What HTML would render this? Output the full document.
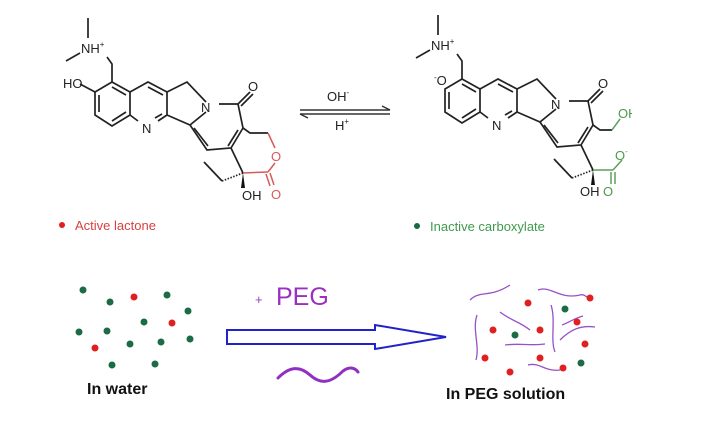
<!DOCTYPE html>
<html><head><style>
html,body{margin:0;padding:0;background:#fff;}
svg{display:block;font-family:"Liberation Sans",Arial,sans-serif;}
</style></head><body>
<svg width="706" height="434" viewBox="0 0 706 434" xmlns="http://www.w3.org/2000/svg">
<defs>
<g id="core" fill="none" stroke="#222" stroke-width="1.7">
  <line x1="88" y1="18" x2="88" y2="38"/>
  <line x1="66" y1="61" x2="80" y2="53"/>
  <polyline points="107,57 112,64 112,82"/>
  <polygon points="112,82 95,92 95,115 112,126 130,115 130,92"/>
  <line x1="99" y1="95" x2="99" y2="112"/>
  <line x1="112" y1="121" x2="126" y2="112"/>
  <line x1="112" y1="87" x2="126" y2="95"/>
  <polyline points="130,92 148,82 167,92 167,115 158,121"/>
  <line x1="138" y1="121" x2="130" y2="115"/>
  <line x1="148" y1="87" x2="163" y2="95"/>
  <line x1="162" y1="114" x2="155" y2="118"/>
  <polyline points="167,92 187,82 206,102"/>
  <polyline points="167,115 190,125 206,112"/>
  <polyline points="219,104 238,104 243,128 231,148 207,150 190,125"/>
  <line x1="194" y1="128" x2="208" y2="146"/>
  <line x1="238" y1="130" x2="228" y2="146"/>
  <line x1="238" y1="104" x2="250" y2="92"/>
  <line x1="241" y1="106" x2="253" y2="94"/>
  <line x1="231" y1="148" x2="243" y2="173"/>
  <line x1="243" y1="173" x2="222" y2="181" stroke-dasharray="1.5,1.5"/>
  <line x1="222" y1="181" x2="204" y2="162"/>
  <polygon points="243,173 241,188 245,188" fill="#111" stroke="none"/>
</g>
</defs>

<use href="#core"/>
<text x="81" y="53" font-size="13" fill="#222">NH<tspan font-size="8" dy="-6">+</tspan></text>
<text x="63" y="88" font-size="13" fill="#222">HO</text>
<line x1="80" y1="84" x2="95" y2="92" stroke="#222" stroke-width="1.7"/>
<text x="201" y="112" font-size="13" fill="#222">N</text>
<text x="142" y="133" font-size="13" fill="#222">N</text>
<text x="248" y="91" font-size="13" fill="#222">O</text>
<g fill="none" stroke="#222" stroke-width="1.7"><polyline points="243,128 250,133 268,133"/></g>
<g fill="none" stroke="#d85a5a" stroke-width="1.5">
  <line x1="268" y1="133" x2="275" y2="148"/>
  <line x1="275" y1="163" x2="268" y2="172"/>
  <line x1="243" y1="173" x2="268" y2="172"/>
  <line x1="266" y1="174" x2="270" y2="186"/>
  <line x1="270" y1="173" x2="274" y2="185"/>
</g>
<text x="271" y="161" font-size="13" fill="#d85a5a">O</text>
<text x="271" y="199" font-size="13" fill="#d85a5a">O</text>
<text x="242" y="200" font-size="13" fill="#222">OH</text>

<circle cx="62" cy="225" r="3" fill="#e02020"/>
<text x="75" y="230" font-size="13" fill="#d84040">Active lactone</text>

<text x="327" y="101" font-size="13" fill="#222">OH<tspan font-size="8" dy="-6">-</tspan></text>
<text x="335" y="130" font-size="13" fill="#222">H<tspan font-size="8" dy="-6">+</tspan></text>
<g stroke="#333" stroke-width="1.5" fill="none">
  <line x1="300" y1="110" x2="390" y2="110"/>
  <polyline points="382,106 390,110"/>
  <line x1="300" y1="114" x2="390" y2="114"/>
  <polyline points="300,114 308,118"/>
</g>

<g transform="translate(350,-3)">
<use href="#core"/>
<text x="81" y="53" font-size="13" fill="#222">NH<tspan font-size="8" dy="-6">+</tspan></text>
<text x="84" y="88" font-size="13" fill="#222"><tspan font-size="8" dy="-5">-</tspan><tspan dy="5">O</tspan></text>
<text x="201" y="112" font-size="13" fill="#222">N</text>
<text x="142" y="133" font-size="13" fill="#222">N</text>
<text x="248" y="91" font-size="13" fill="#222">O</text>
<g fill="none" stroke="#222" stroke-width="1.7"><polyline points="243,128 250,133 262,133"/></g>
<g fill="none" stroke="#5aa05a" stroke-width="1.5">
  <line x1="243" y1="173" x2="263" y2="173"/>
  <line x1="263" y1="173" x2="272" y2="163"/>
  <line x1="261" y1="175" x2="261" y2="187"/>
  <line x1="265" y1="175" x2="265" y2="187"/>
  <line x1="262" y1="133" x2="270" y2="122"/>
</g>
<text x="268" y="121" font-size="13" fill="#4a9a4a">OH</text>
<text x="265" y="163" font-size="13" fill="#4a9a4a">O<tspan font-size="8" dy="-6">-</tspan></text>
<text x="253" y="199" font-size="13" fill="#4a9a4a">O</text>
<text x="230" y="199" font-size="13" fill="#222">OH</text>
</g>
<rect x="632" y="95" width="74" height="30" fill="#fff"/>

<circle cx="417" cy="226" r="3" fill="#1a6a40"/>
<text x="430" y="231" font-size="13" fill="#3f9a4a">Inactive carboxylate</text>

<g fill="#1b6b45">
<circle cx="83" cy="290" r="3.5"/><circle cx="110" cy="302" r="3.5"/><circle cx="167" cy="295" r="3.5"/>
<circle cx="188" cy="311" r="3.5"/><circle cx="144" cy="322" r="3.5"/><circle cx="79" cy="332" r="3.5"/>
<circle cx="107" cy="331" r="3.5"/><circle cx="130" cy="344" r="3.5"/><circle cx="161" cy="342" r="3.5"/>
<circle cx="190" cy="339" r="3.5"/><circle cx="112" cy="365" r="3.5"/><circle cx="155" cy="364" r="3.5"/>
</g>
<g fill="#e02020">
<circle cx="134" cy="297" r="3.5"/><circle cx="172" cy="323" r="3.5"/><circle cx="95" cy="348" r="3.5"/>
</g>

<text x="255" y="304" font-size="13" fill="#9b40c0">+</text>
<text x="276" y="305" font-size="25" fill="#9b30c0">PEG</text>
<polygon points="227,330 375,330 375,325 446,337 375,349 375,344 227,344" fill="none" stroke="#2222cc" stroke-width="2"/>
<path d="M278,378 C290,366 300,366 310,375 C320,384 330,384 343,371 C350,366 355,368 358,372" fill="none" stroke="#9030c0" stroke-width="3" stroke-linecap="round"/>

<text x="87" y="394" font-size="16" font-weight="bold" fill="#111">In water</text>
<text x="446" y="399" font-size="16" font-weight="bold" fill="#111">In PEG solution</text>

<g fill="none" stroke="#9a50c8" stroke-width="1.3">
<path d="M470,300 C480,290 490,298 510,285"/>
<path d="M538,290 C550,285 560,300 580,295 C585,293 588,300 590,297"/>
<path d="M477,315 C472,330 480,345 476,360"/>
<path d="M500,312 C510,320 520,322 530,330"/>
<path d="M551,305 C556,320 550,340 555,352"/>
<path d="M560,340 C570,330 580,325 595,327"/>
<path d="M505,345 C520,343 530,346 545,344"/>
<path d="M528,365 C540,362 545,372 560,370"/>
<path d="M562,325 C570,322 575,318 583,316"/>
</g>
<g fill="#e02020">
<circle cx="528" cy="303" r="3.5"/><circle cx="590" cy="298" r="3.5"/><circle cx="577" cy="322" r="3.5"/>
<circle cx="493" cy="330" r="3.5"/><circle cx="540" cy="330" r="3.5"/><circle cx="585" cy="344" r="3.5"/>
<circle cx="485" cy="358" r="3.5"/><circle cx="540" cy="358" r="3.5"/><circle cx="510" cy="372" r="3.5"/>
<circle cx="563" cy="368" r="3.5"/>
</g>
<g fill="#1b6b45">
<circle cx="565" cy="309" r="3.5"/><circle cx="515" cy="335" r="3.5"/><circle cx="581" cy="363" r="3.5"/>
</g>
</svg>
</body></html>
